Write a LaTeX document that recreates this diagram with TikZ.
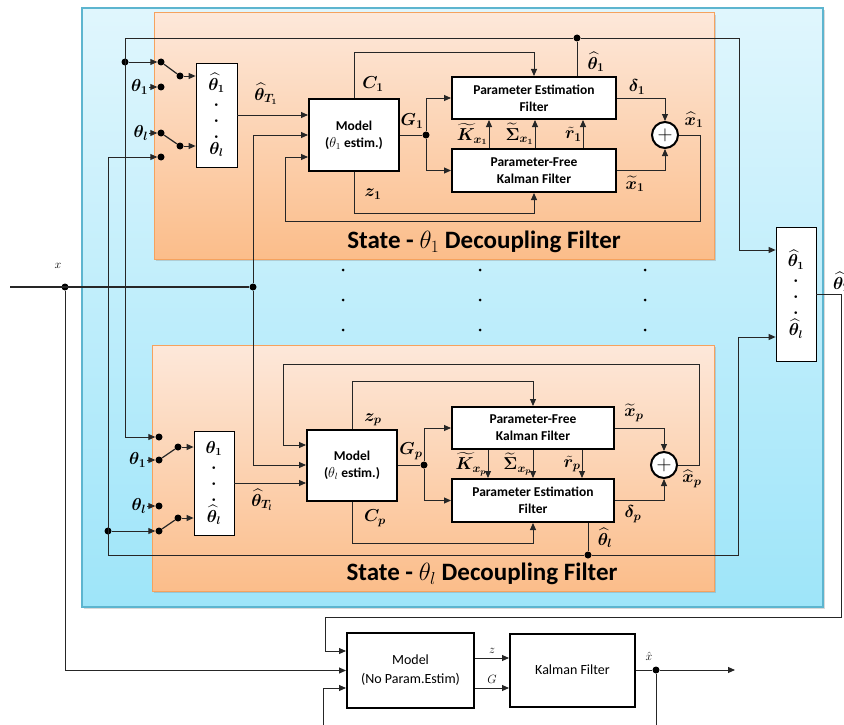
\documentclass[tikz,border=0pt]{standalone}
\usepackage{amsmath,bm}
\usepackage{fontspec}
\setsansfont{Carlito}
\usetikzlibrary{arrows.meta,positioning,shadows,calc}
\definecolor{wirec}{HTML}{262626}
\definecolor{skytop}{HTML}{E0F6FD}
\definecolor{skybot}{HTML}{9EE5F9}
\definecolor{skyedge}{HTML}{5DB5CF}
\definecolor{peachtop}{HTML}{FDE8DA}
\definecolor{peachbot}{HTML}{FBBD8A}
\definecolor{peachedge}{HTML}{F5A25E}

\begin{document}
\begin{tikzpicture}[x=1pt, y=-1pt,
    wire/.style={draw=wirec, line width=0.9pt},
    arr/.style={wire, -{Triangle[length=7pt,width=6pt]}},
    dot/.style={circle, fill=black, inner sep=0pt, minimum size=7pt},
    blk/.style={draw=black, line width=2pt, fill=white, align=center, inner sep=1pt,
                font=\sffamily\bfseries\fontsize{13.5}{17}\selectfont},
    plainblk/.style={blk, font=\sffamily\fontsize{14}{19}\selectfont},
    selbox/.style={draw=black, line width=0.8pt, fill=white, align=center, inner sep=0pt,
                   font=\fontsize{16}{16}\selectfont},
    sumnode/.style={circle, draw=black, line width=2pt, fill=white, minimum size=26pt,
                    inner sep=0pt, font=\fontsize{22}{22}\selectfont},
    lbl/.style={inner sep=1pt, font=\fontsize{17}{19}\selectfont},
    thin lbl/.style={font=\fontsize{13}{15}\selectfont},
    panel/.style={draw=skyedge, line width=1.2pt, top color=skytop, bottom color=skybot,
                  drop shadow={shadow xshift=2pt, shadow yshift=-2pt, opacity=0.3}},
    stage/.style={draw=peachedge, line width=1pt, top color=peachtop, bottom color=peachbot,
                  drop shadow={shadow xshift=2pt, shadow yshift=-2pt, opacity=0.3}},
    banner/.style={font=\sffamily\bfseries\fontsize{25}{28}\selectfont}
  ]
  \useasboundingbox (0,0) rectangle (844,725);

  % background panels
  \node[panel, minimum width=741pt, minimum height=599pt] (outer) at (452.5,307.5) {};
  \node[stage, minimum width=560pt, minimum height=246pt] (stage1) at (434,136) {};
  \node[stage, minimum width=562pt, minimum height=246pt] (stageL) at (433,468) {};
  \node[banner] (cap1) at (484,242) {State - $\theta_1$ Decoupling Filter};
  \node[banner] (capL) at (482,574) {State - $\theta_l$ Decoupling Filter};

  % ---- filter for theta_1 ----
  \node[selbox, minimum width=41pt, minimum height=104pt] (selT) at (216.5,115)
    {$\bm{\widehat{\theta}_1}$\\ $\bm{.}$\\ $\bm{.}$\\ $\bm{.}$\\ $\bm{\theta_l}$};
  \node[blk, minimum width=90pt, minimum height=71pt] (model1) at (354,135) {Model\\($\theta_1$ estim.)};
  \node[blk, minimum width=164pt, minimum height=42pt] (pe1) at (534,98) {Parameter Estimation\\Filter};
  \node[blk, minimum width=164pt, minimum height=43pt, below=28pt of pe1] (pf1) {Parameter-Free\\Kalman Filter};
  \node[sumnode] (sum1) at (665,135) {$+$};

  % switches
  \node[dot] (cA1) at (161,62) {};
  \node[dot] (cB1) at (161,87) {};
  \node[dot] (cC1) at (161,133) {};
  \node[dot] (cD1) at (161,157) {};
  \node[dot] (t1) at (180,76) {};
  \node[dot] (t2) at (180,146) {};
  \node[lbl, left=8pt of cB1] (lb1) {$\bm{\theta_1}$};
  \node[lbl, left=8pt of cC1] (lbl1) {$\bm{\theta_l}$};
  \draw[arr] (lb1) -- (cB1);
  \draw[arr] (lbl1) -- (cC1);
  \draw[wire, line width=1.2pt] (cA1) -- (t1);
  \draw[wire, line width=1.2pt] (cC1) -- (t2);
  \draw[arr] (t1) -- (t1 -| selT.west);
  \draw[arr] (t2) -- (t2 -| selT.west);

  \draw[arr] (selT.east) -- (selT.east -| model1.west);
  \draw[arr] (model1.north) -- ++(0,-46) -| (pe1.north);
  \draw[arr] (model1.south) -- ++(0,42) -| (pf1.south);
  \node[dot] (g1) at (426,135) {};
  \draw[wire] (model1.east) -- (g1);
  \draw[arr] (g1) |- (pe1.west);
  \draw[arr] (g1) |- (pf1.west);
  \draw[arr] (pf1.north -| 489,0) -- node[lbl, left=0pt] {$\bm{\widetilde{K}_{x_1}}$} (pe1.south -| 489,0);
  \draw[arr] (pf1.north -| 535,0) -- node[lbl, left=0pt] {$\bm{\widetilde{\Sigma}_{x_1}}$} (pe1.south -| 535,0);
  \draw[arr] (pf1.north -| 583,0) -- node[lbl, left=0pt] {$\bm{\tilde{r}_1}$} (pe1.south -| 583,0);
  \draw[arr] (pe1.east) -| (sum1.north);
  \draw[arr] (pf1.east) -| (sum1.south);
  \draw[arr] (sum1.east) -| (700,221) -| (285,157) -- (model1.west |- 0,157);

  \node[lbl] at (266,94) {$\bm{\widehat{\theta}_{T_1}}$};
  \node[lbl] at (373,84) {$\bm{C_1}$};
  \node[lbl] at (412,121) {$\bm{G_1}$};
  \node[lbl] at (373,194) {$\bm{z_1}$};
  \node[lbl] at (596,62) {$\bm{\widehat{\theta}_1}$};
  \node[lbl] at (637,87) {$\bm{\delta_1}$};
  \node[lbl] at (694,120) {$\bm{\widehat{x}_1}$};
  \node[lbl] at (635,184) {$\bm{\widetilde{x}_1}$};

  % ---- filter for theta_l ----
  \node[selbox, minimum width=40pt, minimum height=104pt] (selB) at (214,483)
    {$\bm{\theta_1}$\\ $\bm{.}$\\ $\bm{.}$\\ $\bm{.}$\\[3pt] $\bm{\widehat{\theta}_l}$};
  \node[blk, minimum width=90pt, minimum height=71pt] (modelL) at (352,465) {Model\\($\theta_l$ estim.)};
  \node[blk, minimum width=162pt, minimum height=42pt] (pfL) at (533,428) {Parameter-Free\\Kalman Filter};
  \node[blk, minimum width=162pt, minimum height=43pt, below=28pt of pfL] (peL) {Parameter Estimation\\Filter};
  \node[sumnode] (sumL) at (664,465) {$+$};

  \node[dot] (cA2) at (159,437) {};
  \node[dot] (cB2) at (159,460) {};
  \node[dot] (cC2) at (159,506) {};
  \node[dot] (cD2) at (159,531) {};
  \node[dot] (t3) at (178,447) {};
  \node[dot] (t4) at (178,518) {};
  \node[lbl, left=8pt of cB2] (lb2) {$\bm{\theta_1}$};
  \node[lbl, left=8pt of cC2] (lbl2) {$\bm{\theta_l}$};
  \draw[arr] (lb2) -- (cB2);
  \draw[arr] (lbl2) -- (cC2);
  \draw[wire, line width=1.2pt] (cB2) -- (t3);
  \draw[wire, line width=1.2pt] (cD2) -- (t4);
  \draw[arr] (t3) -- (t3 -| selB.west);
  \draw[arr] (t4) -- (t4 -| selB.west);

  \draw[arr] (selB.east) -- (selB.east -| modelL.west);
  \draw[arr] (modelL.north) -- ++(0,-47) -| (pfL.north);
  \draw[arr] (modelL.south) -- ++(0,42) -| (peL.south);
  \node[dot] (gL) at (424,465) {};
  \draw[wire] (modelL.east) -- (gL);
  \draw[arr] (gL) |- (pfL.west);
  \draw[arr] (gL) |- (peL.west);
  \draw[arr] (pfL.south -| 488,0) -- node[lbl, left=0pt] {$\bm{\widetilde{K}_{x_p}}$} (peL.north -| 488,0);
  \draw[arr] (pfL.south -| 533,0) -- node[lbl, left=0pt] {$\bm{\widetilde{\Sigma}_{x_p}}$} (peL.north -| 533,0);
  \draw[arr] (pfL.south -| 582,0) -- node[lbl, left=0pt] {$\bm{\tilde{r}_p}$} (peL.north -| 582,0);
  \draw[arr] (pfL.east) -| (sumL.north);
  \draw[arr] (peL.east) -| (sumL.south);
  \draw[arr] (sumL.east) -| (699,364) -| (283,445) -- (modelL.west |- 0,445);

  \node[lbl] at (262,500) {$\bm{\widehat{\theta}_{T_l}}$};
  \node[lbl] at (373,420) {$\bm{z_p}$};
  \node[lbl] at (411,451) {$\bm{G_p}$};
  \node[lbl] at (375,518) {$\bm{C_p}$};
  \node[lbl] at (605,538) {$\bm{\widehat{\theta}_l}$};
  \node[lbl] at (633,514) {$\bm{\delta_p}$};
  \node[lbl] at (692,479) {$\bm{\widehat{x}_p}$};
  \node[lbl] at (634,413) {$\bm{\widetilde{x}_p}$};

  % ---- estimate buses ----
  \node[selbox, minimum width=40pt, minimum height=134pt] (colB) at (796,294)
    {$\bm{\widehat{\theta}_1}$\\ $\bm{.}$\\ $\bm{.}$\\ $\bm{.}$\\[3pt] $\bm{\widehat{\theta}_l}$};
  \node[dot] (th1j) at (577,38) {};
  \node[dot] (jA) at (125,62) {};
  \draw[wire] (pe1.north -| th1j) -- (th1j);
  \draw[arr] (th1j) -- (125,38) |- (cA2);
  \draw[arr] (jA) -- (cA1);
  \draw[arr] (th1j) -| (739,250) -- (colB.west |- 0,250);

  \node[dot] (thlj) at (588,555) {};
  \node[dot] (jD) at (108,531) {};
  \draw[wire] (peL.south -| thlj) -- (thlj);
  \draw[arr] (thlj) -- (108,555) |- (cD1);
  \draw[arr] (jD) -- (cD2);
  \draw[arr] (thlj) -| (738,337) -- (colB.west |- 0,337);
  \node[lbl, anchor=west] at (832,282) {$\bm{\widehat{\theta}_T}$};

  % ---- measurement input ----
  \coordinate (xin) at (10,287);
  \node[dot] (jx1) at (65,287) {};
  \node[dot] (jx2) at (253,287) {};
  \node[thin lbl] at (58,266) {$x$};
  \draw[wire, line width=1.3pt] (xin) -- (jx2);
  \draw[arr] (jx2) |- (model1.west);
  \draw[arr] (jx2) |- (modelL.west);

  % stacked-filter ellipsis
  \foreach \cx in {343,480,645} {
    \foreach \cy in {270,300,330} {
      \fill (\cx,\cy) circle (1.5pt);
    }
  }

  % ---- reference Kalman filter ----
  \node[plainblk, minimum width=127pt, minimum height=75pt] (model0) at (410.5,670.5) {Model\\(No Param.Estim)};
  \node[plainblk, minimum width=125pt, minimum height=73pt] (kf) at (572.5,670) {Kalman Filter};
  \draw[arr] (jx1) |- (model0.west);
  \draw[arr] (colB.east) -| (841,617) -| (325,651) -- (model0.west |- 0,651);
  \coordinate (uin) at (323,730);
  \draw[arr] (uin) |- (model0.west |- 0,688);
  \draw[arr] (model0.east |- 0,658) -- node[thin lbl, above=1pt] {$z$} (kf.west |- 0,658);
  \draw[arr] (model0.east |- 0,688) -- node[thin lbl, above=1pt] {$G$} (kf.west |- 0,688);
  \node[dot] (jk) at (656,670) {};
  \coordinate (xout) at (735,670);
  \coordinate (xfb) at (656,730);
  \draw[wire] (kf.east) -- (jk);
  \draw[arr] (jk) -- (xout);
  \draw[wire] (jk) -- (xfb);
  \node[thin lbl] at (649,656) {$\hat{x}$};
\end{tikzpicture}
\end{document}
